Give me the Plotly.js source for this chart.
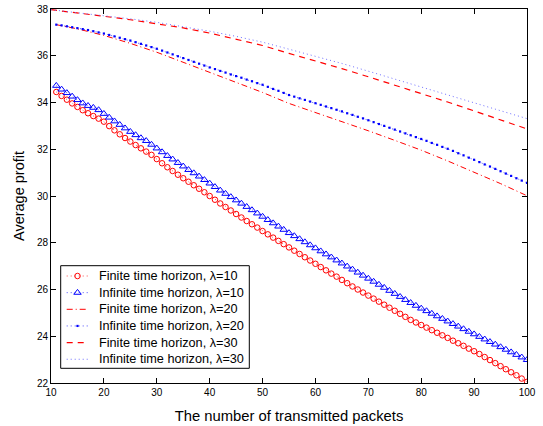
<!DOCTYPE html>
<html><head><meta charset="utf-8">
<script src="https://cdn.plot.ly/plotly-3.0.1.min.js"></script>
<style>html,body{margin:0;padding:0;background:#fff}#chart{width:543px;height:426px}</style>
</head><body><div id="chart"></div>
<script>
// Number of transmitted packets (x axis)
var packets = [11,12,13,14,15,16,17,18,19,20,
  21,22,23,24,25,26,27,28,29,30,
  31,32,33,34,35,36,37,38,39,40,
  41,42,43,44,45,46,47,48,49,50,
  51,52,53,54,55,56,57,58,59,60,
  61,62,63,64,65,66,67,68,69,70,
  71,72,73,74,75,76,77,78,79,80,
  81,82,83,84,85,86,87,88,89,90,
  91,92,93,94,95,96,97,98,99,100];
var packetsL20 = [11,15,20,25,30,35,40,45,50,55,60,65,70,75,80,85,90,95,100];
var packetsL30 = [10,15,20,25,30,35,40,45,50,55,60,65,70,75,80,85,90,95,100];

// Average profit, lambda = 10
var finiteL10 = [34.45,34.28,34.12,33.96,33.81,33.67,33.54,33.42,33.31,33.18,
  32.99,32.81,32.64,32.48,32.33,32.18,32.04,31.90,31.76,31.58,
  31.40,31.23,31.07,30.91,30.76,30.61,30.46,30.31,30.16,30.00,
  29.84,29.68,29.53,29.38,29.23,29.08,28.93,28.79,28.65,28.50,
  28.36,28.22,28.08,27.94,27.80,27.66,27.52,27.38,27.24,27.10,
  26.96,26.82,26.68,26.55,26.41,26.27,26.13,26.00,25.87,25.74,
  25.61,25.48,25.35,25.22,25.09,24.96,24.83,24.70,24.59,24.48,
  24.37,24.26,24.15,24.04,23.93,23.81,23.70,23.59,23.47,23.36,
  23.24,23.11,22.98,22.85,22.72,22.59,22.46,22.33,22.19,22.05];
var infiniteL10 = [34.72,34.56,34.41,34.26,34.11,33.97,33.86,33.78,33.68,33.52,
  33.36,33.20,33.05,32.90,32.75,32.61,32.48,32.36,32.20,32.04,
  31.88,31.72,31.57,31.42,31.27,31.12,30.98,30.84,30.69,30.54,
  30.39,30.24,30.10,29.96,29.82,29.68,29.54,29.40,29.26,29.12,
  28.98,28.84,28.70,28.56,28.42,28.29,28.16,28.03,27.90,27.77,
  27.64,27.51,27.38,27.25,27.12,26.99,26.86,26.73,26.60,26.47,
  26.34,26.21,26.08,25.95,25.82,25.69,25.56,25.43,25.31,25.19,
  25.08,24.97,24.86,24.75,24.64,24.53,24.42,24.31,24.20,24.09,
  23.98,23.87,23.76,23.65,23.54,23.43,23.32,23.21,23.10,22.99];

// Average profit, lambda = 20
var finiteL20 = [37.33,37.15,36.87,36.53,36.15,35.72,35.27,34.86,34.43,33.96,
  33.58,33.19,32.79,32.38,31.96,31.50,31.03,30.53,30.01];
var infiniteL20 = [37.33,37.30,37.26,37.22,37.18,37.14,37.10,37.05,37.00,36.95,
  36.89,36.83,36.77,36.71,36.65,36.58,36.51,36.44,36.37,36.30,
  36.22,36.14,36.06,35.98,35.90,35.82,35.74,35.66,35.58,35.50,
  35.43,35.35,35.28,35.20,35.13,35.06,34.98,34.91,34.83,34.76,
  34.67,34.58,34.50,34.41,34.32,34.25,34.18,34.11,34.04,33.97,
  33.90,33.83,33.76,33.69,33.62,33.54,33.47,33.39,33.32,33.24,
  33.16,33.08,33.00,32.92,32.84,32.76,32.68,32.60,32.52,32.44,
  32.36,32.27,32.19,32.10,32.02,31.93,31.83,31.74,31.64,31.55,
  31.45,31.35,31.26,31.16,31.06,30.96,30.86,30.76,30.66,30.56];

// Average profit, lambda = 30
var finiteL30 = [37.97,37.84,37.69,37.54,37.38,37.19,36.97,36.72,36.44,36.10,
  35.78,35.45,35.10,34.75,34.39,34.02,33.64,33.26,32.87];
var infiniteL30 = [37.97,37.85,37.72,37.58,37.43,37.25,37.05,36.83,36.58,36.28,
  35.99,35.67,35.34,35.00,34.67,34.32,33.99,33.65,33.31];

var seriesNames = ['Finite time horizon, \u03bb=10','Infinite time horizon, \u03bb=10',
  'Finite time horizon, \u03bb=20','Infinite time horizon, \u03bb=20',
  'Finite time horizon, \u03bb=30','Infinite time horizon, \u03bb=30'];
var xTicks = [10,20,30,40,50,60,70,80,90,100];
var yTicks = [22,24,26,28,30,32,34,36,38];

var RED = '#ff0000', BLUE = '#0000ff', LBLUE = 'rgb(110,110,255)';
var styles = [
  {mode: 'lines+markers', line: {color: RED, width: 0.7, dash: '1px,3px'},
   marker: {symbol: 'circle-open', size: 5.5, color: RED, line: {width: 1, color: RED}}},
  {mode: 'lines+markers', line: {color: BLUE, width: 0.7, dash: '1px,3px'},
   marker: {symbol: 'triangle-up-open', size: 6.5, color: BLUE, line: {width: 1, color: BLUE}}},
  {mode: 'lines', line: {color: RED, width: 1, dash: '6px,3px,1px,3px'}},
  {mode: 'lines+markers', line: {color: BLUE, width: 0.7, dash: '1px,3px'},
   marker: {symbol: 'square', size: 2.2, color: BLUE, line: {width: 0}}},
  {mode: 'lines', line: {color: RED, width: 1.2, dash: '6px,5px'}},
  {mode: 'lines', line: {color: LBLUE, width: 1, dash: '1px,3px'}}
];
var xs = [packets, packets, packetsL20, packets, packetsL30, packetsL30];
var ys = [finiteL10, infiniteL10, finiteL20, infiniteL20, finiteL30, infiniteL30];

var traces = [];
for (var i = 0; i < 6; i++) {
  var t = {x: xs[i], y: ys[i], name: seriesNames[i], mode: styles[i].mode,
    line: styles[i].line, showlegend: false, hoverinfo: 'skip'};
  if (styles[i].marker) t.marker = styles[i].marker;
  traces.push(t);
}

// Hand-built legend on a pixel-scaled overlay axis pair
var PL = 51, PR = 527, PT = 9, PB = 383;
var box = {l: 60.7, r: 249.3, t: 265.7, b: 368.3};
var rowTop = 276, rowStep = 16.65;
var sampleL = 66.7, sampleR = 88.3, textX = 96.7;
var FONT = 'Liberation Sans, Arial, Helvetica, sans-serif';
var annotations = [];
for (var k = 0; k < 6; k++) {
  var ry = rowTop + k * rowStep;
  traces.push({x: [sampleL, sampleR], y: [ry, ry], xaxis: 'x2', yaxis: 'y2', mode: 'lines',
    line: styles[k].line, showlegend: false, hoverinfo: 'skip'});
  if (styles[k].marker) {
    traces.push({x: [(sampleL + sampleR) / 2], y: [ry], xaxis: 'x2', yaxis: 'y2', mode: 'markers',
      marker: styles[k].marker, showlegend: false, hoverinfo: 'skip'});
  }
  annotations.push({x: textX, y: ry, xref: 'x2', yref: 'y2', xanchor: 'left', yanchor: 'middle',
    text: seriesNames[k], showarrow: false, font: {family: FONT, size: 12.7, color: '#000'}});
}

var layout = {
  width: 543, height: 426,
  margin: {l: PL, r: 543 - PR, t: PT, b: 426 - PB, pad: 0},
  paper_bgcolor: '#fff', plot_bgcolor: 'rgba(0,0,0,0)',
  font: {family: FONT, color: '#000', size: 10},
  showlegend: false,
  xaxis: {range: [10, 100], tickvals: xTicks, ticktext: xTicks.map(String),
    ticks: 'inside', ticklen: 5, tickcolor: '#000', tickwidth: 1,
    showline: true, linecolor: '#000', linewidth: 1, mirror: 'ticks',
    showgrid: false, zeroline: false, automargin: false,
    tickfont: {size: 10, family: FONT, color: '#000'},
    title: {text: 'The number of transmitted packets', font: {size: 14.8, family: FONT, color: '#000'}, standoff: 13}},
  yaxis: {range: [22, 38], tickvals: yTicks, ticktext: yTicks.map(String),
    ticks: 'inside', ticklen: 5, tickcolor: '#000', tickwidth: 1,
    showline: true, linecolor: '#000', linewidth: 1, mirror: 'ticks',
    showgrid: false, zeroline: false, automargin: false,
    tickfont: {size: 10, family: FONT, color: '#000'},
    title: {text: 'Average profit', font: {size: 14.5, family: FONT, color: '#000'}, standoff: 8}},
  xaxis2: {overlaying: 'x', anchor: 'y2', range: [PL, PR], visible: false, fixedrange: true},
  yaxis2: {overlaying: 'y', anchor: 'x2', range: [PB, PT], visible: false, fixedrange: true},
  shapes: [{type: 'rect', xref: 'x2', yref: 'y2', x0: box.l, x1: box.r, y0: box.t, y1: box.b,
    line: {color: '#000', width: 1}, fillcolor: '#fff', layer: 'below'}],
  annotations: annotations
};
Plotly.newPlot('chart', traces, layout, {displayModeBar: false, staticPlot: true});
</script>
</body></html>
